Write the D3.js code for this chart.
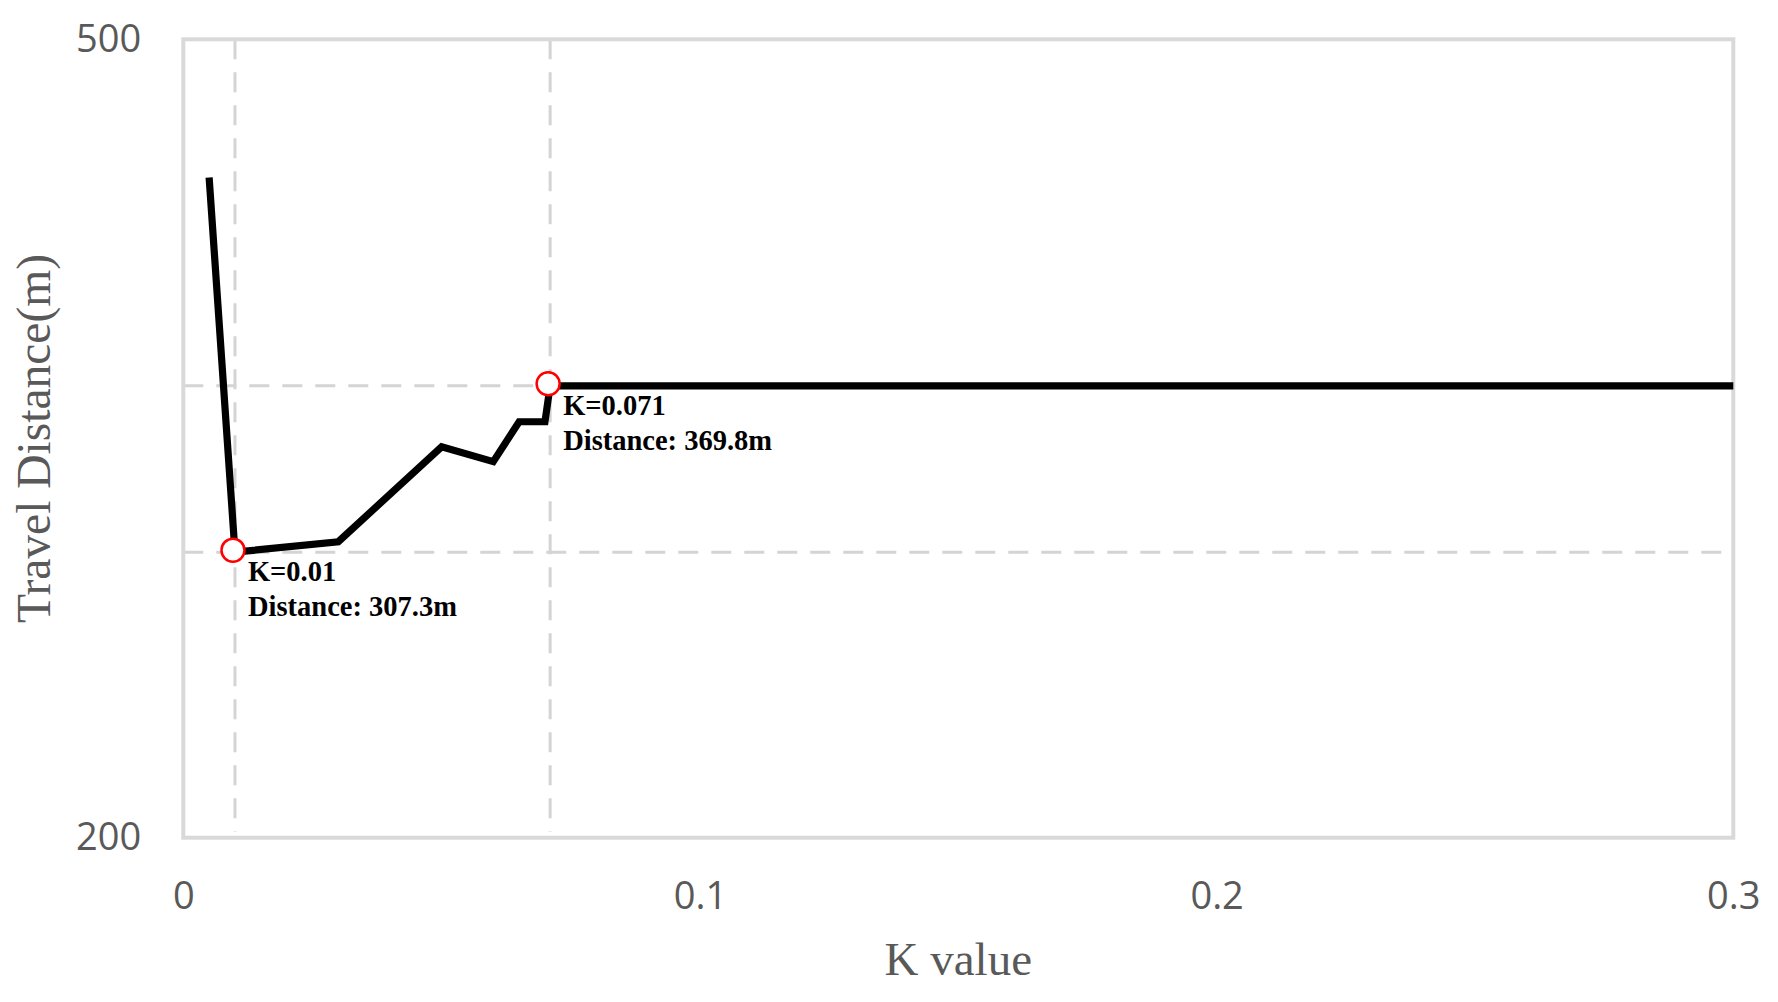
<!DOCTYPE html>
<html>
<head>
<meta charset="utf-8">
<script src="https://cdn.jsdelivr.net/npm/d3@7"></script>
<style>
  html, body { margin: 0; padding: 0; background: #fff; }
</style>
</head>
<body>
<div id="chart"></div>
<script>
'use strict';

// values
var kValues   = [0.005, 0.01, 0.03, 0.05, 0.06, 0.065, 0.07, 0.071, 0.3];
var distances = [448.1, 307.3, 311.2, 346.9, 341.3, 356.3, 356.3, 369.8, 369.8];
var xTicks = [0, 0.1, 0.2, 0.3];
var yTicks = [200, 500];

// highlighted points, with their labels
var markerK    = [0.01, 0.071];
var markerDist = [307.3, 369.8];
var markerText = [
  ['K=0.01', 'Distance: 307.3m'],
  ['K=0.071', 'Distance: 369.8m']
];

var width = 1778, height = 1002;
var margin = {top: 39.3, right: 44.7, bottom: 164.3, left: 183.3};
var plotW = width - margin.left - margin.right;
var plotH = height - margin.top - margin.bottom;

var x = d3.scaleLinear().domain([0, 0.3]).range([0, plotW]);
var y = d3.scaleLinear().domain([200, 500]).range([plotH, 0]);

var svg = d3.select('#chart')
  .append('svg')
  .attr('width', width)
  .attr('height', height);

var g = svg.append('g')
  .attr('transform', 'translate(' + margin.left + ',' + margin.top + ')');

// dashed guide lines through the two marked points
var gridColor = '#d4d4d4';
g.selectAll('line.hgrid').data(markerDist)
  .enter().append('line')
  .attr('class', 'hgrid')
  .attr('x1', 0).attr('x2', plotW)
  .attr('y1', function(d){ return y(d); })
  .attr('y2', function(d){ return y(d); })
  .attr('stroke', gridColor)
  .attr('stroke-width', 3)
  .attr('stroke-dasharray', '20,13');

g.selectAll('line.vgrid').data(markerK)
  .enter().append('line')
  .attr('class', 'vgrid')
  .attr('y1', 0).attr('y2', plotH - 6)
  .attr('x1', function(d){ return x(d); })
  .attr('x2', function(d){ return x(d); })
  .attr('stroke', gridColor)
  .attr('stroke-width', 3)
  .attr('stroke-dasharray', '20,13');

// plot frame
g.append('rect')
  .attr('x', 0).attr('y', 0)
  .attr('width', plotW).attr('height', plotH)
  .attr('fill', 'none')
  .attr('stroke', '#d9d9d9')
  .attr('stroke-width', 4);

// axes
var xAxis = g.append('g')
  .attr('transform', 'translate(0,' + plotH + ')')
  .call(d3.axisBottom(x).tickValues(xTicks).tickSize(0).tickPadding(44)
    .tickFormat(function(d){ return d === 0 ? '0' : d3.format('.1f')(d); }));

var yAxis = g.append('g')
  .call(d3.axisLeft(y).tickValues(yTicks).tickSize(0).tickPadding(42));

[xAxis, yAxis].forEach(function(a){
  a.select('.domain').remove();
  a.selectAll('text')
    .attr('fill', '#595959')
    .style('font-family', '"Open Sans", sans-serif')
    .style('font-size', '38px');
});

// the series
var points = kValues.map(function(k, i){ return [k, distances[i]]; });
var line = d3.line()
  .x(function(d){ return x(d[0]); })
  .y(function(d){ return y(d[1]); });

g.append('path')
  .datum(points)
  .attr('d', line)
  .attr('fill', 'none')
  .attr('stroke', '#000')
  .attr('stroke-width', 7.2)
  .attr('stroke-linejoin', 'miter');

// red open markers
g.selectAll('circle').data(markerK)
  .enter().append('circle')
  .attr('cx', function(d){ return x(d) - 2; })
  .attr('cy', function(d, i){ return y(markerDist[i]) - 2; })
  .attr('r', 11.5)
  .attr('fill', '#fff')
  .attr('stroke', '#ff0000')
  .attr('stroke-width', 2.5);

// point labels
markerK.forEach(function(k, i){
  var t = g.append('text')
    .attr('x', x(k) + 13)
    .attr('y', y(markerDist[i]) + 29)
    .attr('fill', '#000')
    .style('font-family', '"Liberation Serif", "Times New Roman", serif')
    .style('font-weight', 'bold')
    .style('font-size', '28.5px');
  markerText[i].forEach(function(s, j){
    t.append('tspan')
      .attr('x', x(k) + 13)
      .attr('dy', j === 0 ? 0 : 35)
      .text(s);
  });
});

// axis titles
svg.append('text')
  .attr('x', margin.left + plotW / 2)
  .attr('y', 975)
  .attr('text-anchor', 'middle')
  .attr('fill', '#595959')
  .style('font-family', '"Liberation Serif", "Times New Roman", serif')
  .style('font-size', '47px')
  .text('K value');

svg.append('text')
  .attr('transform', 'translate(50,' + (margin.top + plotH / 2) + ') rotate(-90)')
  .attr('text-anchor', 'middle')
  .attr('fill', '#595959')
  .style('font-family', '"Liberation Serif", "Times New Roman", serif')
  .style('font-size', '47.5px')
  .text('Travel Distance(m)');
</script>
</body>
</html>
